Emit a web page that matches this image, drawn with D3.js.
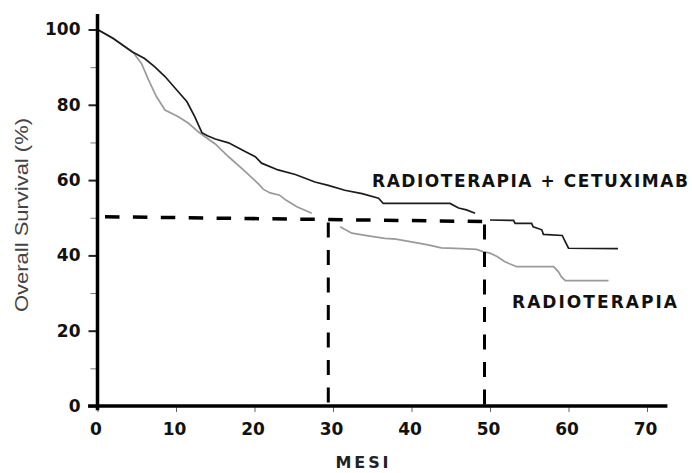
<!DOCTYPE html>
<html><head><meta charset="utf-8">
<script src="https://cdn.jsdelivr.net/npm/d3@7"></script>
<style>
html,body{margin:0;padding:0;background:#fff;}
svg{display:block;}
</style></head>
<body>
<svg id="chart" width="692" height="473"></svg>
<script>
// ---- data ----
const xTickValues = [0, 10, 20, 30, 40, 50, 60, 70];
const yTickValues = [0, 20, 40, 60, 80, 100];
const yMinorTickValues = [10, 30, 50, 70, 90];

// RADIOTERAPIA + CETUXIMAB (null = gap)
const cetuxMonths = [0, 2, 4.4, 6, 7.3, 8.6, 9.9, 11.4, 12.4, 13.3, 14, 15, 16.7, 18.8, 20.1, 20.9, 23, 25.2, 27.7, 29.4, 31.5, 33.7, 35.8, 36.4, 44.9, 46, 47, 48.1, null, 50, 53, 53.2, 55.3, 55.5, 56.6, 56.8, 59.2, 59.6, 60, 66.3];
const cetuxSurv   = [100, 97.6, 94.1, 92.3, 90.1, 87.5, 84.4, 80.8, 76.8, 72.6, 71.8, 70.9, 69.9, 67.6, 66.2, 64.5, 62.7, 61.5, 59.5, 58.6, 57.3, 56.4, 55.2, 53.8, 53.8, 52.6, 52.1, 51.2, null, 49.4, 49.3, 48.5, 48.5, 47.6, 46.8, 45.6, 45.3, 43.6, 41.9, 41.8];

// RADIOTERAPIA (null = gap)
const rtMonths = [0, 2, 4.5, 5.6, 6.5, 7.5, 8.6, 10.3, 11.6, 12.8, 13.7, 15, 16.7, 18.8, 20.5, 21.1, 22, 23.2, 24, 25.4, 27.3, null, 30.9, 32.4, 34.5, 36.6, 38, 40, 42.1, 43.8, 46.4, 48.3, 49.1, 50, 50.9, 51.9, 53.4, 58.1, 58.7, 59.1, 59.6, 65.1];
const rtSurv   = [100, 97.7, 94, 91, 86.6, 82.2, 78.6, 76.8, 75.1, 72.9, 71.5, 69.6, 66.2, 62.3, 59, 57.6, 56.6, 56, 54.7, 52.9, 51.2, null, 47.6, 45.9, 45.2, 44.5, 44.3, 43.6, 42.8, 42, 41.8, 41.6, 41, 40.6, 39.7, 38.3, 37, 37, 35.7, 34.3, 33.3, 33.3];

// median survival guide lines
const medianMonths = [29.4, 49.3];
const medianLevels = [50.3, 49.0];   // level of horizontal dashed line at start (0) and at its end

const seriesLabels = ["RADIOTERAPIA + CETUXIMAB", "RADIOTERAPIA"];
const xTitle = "MESI";
const yTitle = "Overall Survival (%)";

// ---- chart ----
const svg = d3.select("#chart");
const x = d3.scaleLinear().domain([0, 70]).range([97.5, 647]);
const y = d3.scaleLinear().domain([0, 100]).range([406, 29.5]);

const tickFont = "'DejaVu Sans', Verdana, sans-serif";

// curves
const line = d3.line()
  .defined(d => d[0] !== null && d[1] !== null)
  .x(d => x(d[0])).y(d => y(d[1]));

const rtData = rtMonths.map((m, i) => [m, rtSurv[i]]);
const cxData = cetuxMonths.map((m, i) => [m, cetuxSurv[i]]);

svg.append("path").datum(rtData).attr("d", line)
  .attr("fill", "none").attr("stroke", "#9a9a9a").attr("stroke-width", 1.7)
  .attr("stroke-linejoin", "miter");
svg.append("path").datum(cxData).attr("d", line)
  .attr("fill", "none").attr("stroke", "#1c1c1c").attr("stroke-width", 1.7)
  .attr("stroke-linejoin", "miter");

// dashed median lines
const hLevel = m => medianLevels[0] + (medianLevels[1] - medianLevels[0]) * (m / medianMonths[1]);
svg.append("line")
  .attr("x1", x(0)).attr("y1", y(medianLevels[0]))
  .attr("x2", x(medianMonths[1])).attr("y2", y(medianLevels[1]))
  .attr("stroke", "#000").attr("stroke-width", 3.5)
  .attr("stroke-dasharray", "14.5 13.4").attr("stroke-dashoffset", 20.4);
medianMonths.forEach(m => {
  svg.append("line")
    .attr("x1", x(m)).attr("y1", y(hLevel(m)) + 3)
    .attr("x2", x(m)).attr("y2", y(0))
    .attr("stroke", "#000").attr("stroke-width", 3)
    .attr("stroke-dasharray", "15 12.5");
});

// y axis
const gy = svg.append("g").attr("transform", `translate(${x(0)},0)`)
  .call(d3.axisLeft(y).tickValues(yTickValues).tickSize(9).tickPadding(8));
gy.select(".domain").remove();
gy.selectAll(".tick line").attr("stroke", "#222").attr("stroke-width", 2);
gy.selectAll(".tick text").attr("font-family", tickFont).attr("font-weight", "bold")
  .attr("font-size", 17).attr("fill", "#111");
const gym = svg.append("g").attr("transform", `translate(${x(0)},0)`)
  .call(d3.axisLeft(y).tickValues(yMinorTickValues).tickSize(7).tickFormat(""));
gym.select(".domain").remove();
gym.selectAll(".tick line").attr("stroke", "#777").attr("stroke-width", 1);

// x axis
const gx = svg.append("g").attr("transform", `translate(0,${y(0)})`)
  .call(d3.axisBottom(x).tickValues(xTickValues).tickSize(6).tickPadding(11));
gx.select(".domain").remove();
gx.selectAll(".tick line").attr("stroke", "#666").attr("stroke-width", 1);
gx.selectAll(".tick text").attr("font-family", tickFont).attr("font-weight", "bold")
  .attr("font-size", 17).attr("fill", "#111").attr("dx", -2);

// axis lines
svg.append("line").attr("x1", x(0)).attr("x2", x(0))
  .attr("y1", y(104.1)).attr("y2", y(-1.1))
  .attr("stroke", "#000").attr("stroke-width", 3.5);
svg.append("line").attr("x1", x(-1.2)).attr("x2", x(72.6))
  .attr("y1", y(0)).attr("y2", y(0))
  .attr("stroke", "#000").attr("stroke-width", 3.5);

// series labels
svg.append("text").attr("x", 372).attr("y", 187)
  .attr("font-family", tickFont).attr("font-weight", "bold").attr("font-size", 17)
  .attr("textLength", 316).attr("lengthAdjust", "spacing").attr("fill", "#111")
  .text(seriesLabels[0]);
svg.append("text").attr("x", 512).attr("y", 308)
  .attr("font-family", tickFont).attr("font-weight", "bold").attr("font-size", 17)
  .attr("textLength", 165).attr("lengthAdjust", "spacing").attr("fill", "#111")
  .text(seriesLabels[1]);

// axis titles
svg.append("text").attr("x", 362).attr("y", 468).attr("text-anchor", "middle")
  .attr("font-family", tickFont).attr("font-weight", "bold").attr("font-size", 16)
  .attr("textLength", 53).attr("lengthAdjust", "spacing").attr("fill", "#222")
  .text(xTitle);
svg.append("text").attr("transform", "translate(28,215) rotate(-90)")
  .attr("text-anchor", "middle")
  .attr("font-family", "'Liberation Sans', Arial, sans-serif").attr("font-size", 18)
  .attr("textLength", 194).attr("lengthAdjust", "spacingAndGlyphs").attr("fill", "#444")
  .text(yTitle);
</script>
</body></html>
